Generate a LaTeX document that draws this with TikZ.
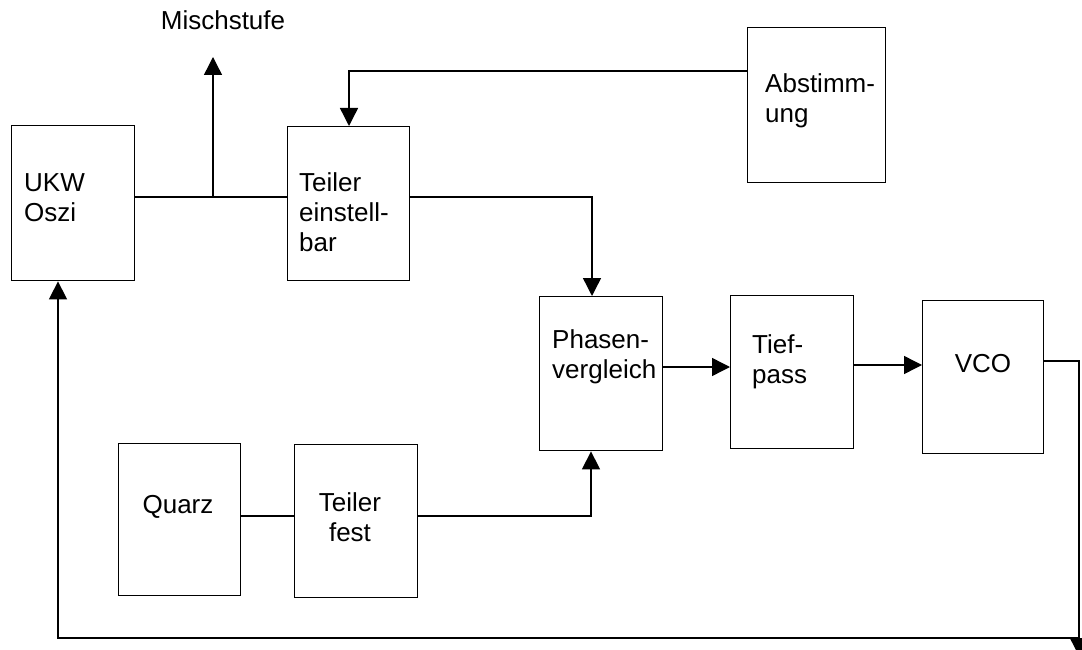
\documentclass[tikz,border=0pt]{standalone}
\usepackage{fontspec}
\setmainfont{Liberation Sans}
\usetikzlibrary{arrows.meta,calc}
\begin{document}
\begin{tikzpicture}[x=1pt,y=-1pt,
  blk/.style={draw,line width=1.4pt,inner sep=0,anchor=north west},
  lbl/.style={font=\fontsize{26}{30}\selectfont,inner sep=0,align=left,anchor=base west},
  clbl/.style={font=\fontsize{26}{30}\selectfont,inner sep=0,align=center,anchor=base},
  wire/.style={line width=1.4pt},
  arr/.style={wire,-{Triangle[length=18pt,width=18pt]}}]
\useasboundingbox (0,0) rectangle (1082,650);
% blocks
\node[blk,minimum width=123pt,minimum height=155pt] (ukw) at (11,125) {};
\node[blk,minimum width=122pt,minimum height=154pt] (teilE) at (287,126) {};
\node[blk,minimum width=138pt,minimum height=155pt] (abst) at (747,27) {};
\node[blk,minimum width=123pt,minimum height=154pt] (phase) at (539,296) {};
\node[blk,minimum width=123pt,minimum height=153pt] (tief) at (730,295) {};
\node[blk,minimum width=121pt,minimum height=153pt] (vco) at (922,300) {};
\node[blk,minimum width=122pt,minimum height=152pt] (quarz) at (118,443) {};
\node[blk,minimum width=123pt,minimum height=153pt] (teilF) at (294,444) {};
% texts (base = baseline of last line)
\node[lbl] (tukw) at (24,222) {UKW\\Oszi};
\node[lbl] (tteilE) at (299,251) {Teiler\\einstell-\\bar};
\node[lbl] (tabst) at (765,123) {Abstimm-\\ung};
\node[lbl] (tphase) at (552,378) {Phasen-\\vergleich};
\node[lbl] (ttief) at (752,383) {Tief-\\pass};
\node[clbl] (tvco) at (983,372) {VCO};
\node[clbl] (tquarz) at (178,513) {Quarz};
\node[clbl] (tteilF) at (350,541) {Teiler\\fest};
\node[clbl] (mis) at (223,30) {Mischstufe};
% coordinates
\coordinate (mj) at (213,197);
\coordinate (mtop) at (213,57);
\coordinate (br) at (1079,656);
\coordinate (brc) at (1079,638);
% connectors
\draw[wire] (ukw.east |- mj) -- (teilE.west |- mj);
\draw[arr] (mj) -- (mtop);
\draw[arr] (teilE.east |- mj) -| (phase.north -| 592,0);
\draw[arr] (abst.west |- 0,71) -| (teilE.north -| 349,0);
\draw[arr] (phase.east |- 0,367) -- (tief.west |- 0,367);
\draw[arr] (tief.east |- 0,365) -- (vco.west |- 0,365);
\draw[arr] (vco.east |- 0,361) -| (br);
\draw[arr] (brc) -| (ukw.south -| 58,0);
\draw[wire] (quarz.east |- 0,516) -- (teilF.west |- 0,516);
\draw[arr] (teilF.east |- 0,516) -| (phase.south -| 591,0);
\end{tikzpicture}
\end{document}
